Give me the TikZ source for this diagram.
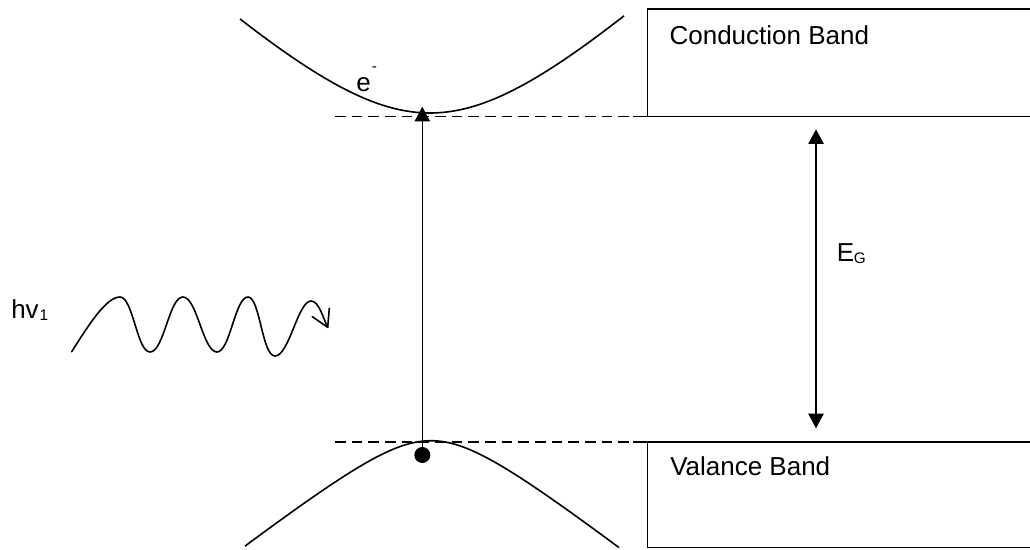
\documentclass[tikz,border=0pt]{standalone}
\usepackage{fontspec}
\setmainfont{Liberation Sans}
\usetikzlibrary{arrows.meta}
\begin{document}
\begin{tikzpicture}[x=0.75pt,y=-0.75pt,
  line/.style={line width=1.2pt},
  dashline/.style={line width=1.2pt, dash pattern=on 8pt off 4.5pt},
  lbl/.style={inner sep=0pt, anchor=base west, font=\fontsize{19.5}{23}\selectfont},
  sublbl/.style={inner sep=0pt, anchor=base west, font=\fontsize{11.5}{13}\selectfont},
  tri/.style={-{Triangle[length=11pt,width=11.5pt]}},
  dtri/.style={{Triangle[length=11pt,width=11.5pt]}-{Triangle[length=11pt,width=11.5pt]}},
]
\useasboundingbox (0,0) rectangle (1030,549);

% coordinates
\coordinate (cdl) at (335,116.7);
\coordinate (cbl) at (633,116.7);
\coordinate (cbr) at (1030,116.7);
\coordinate (cboxbl) at (647.3,116.7);
\coordinate (cboxtl) at (647.3,9.3);
\coordinate (cboxtr) at (1030,9.3);
\coordinate (vdl) at (335,441.7);
\coordinate (vbl) at (633,441.7);
\coordinate (vbr) at (1030,441.7);
\coordinate (vboxtl) at (647.3,441.7);
\coordinate (vboxbl) at (647.3,547.5);
\coordinate (vboxbr) at (1030,547.5);

% conduction band box
\draw[line] (cboxtr) -- (cboxtl) -- (cboxbl);
\draw[line] (cbl) -- (cbr);
\draw[dashline] (cdl) -- (cbl);
% valence band box
\draw[line] (vbl) -- (vbr);
\draw[line] (vboxtl) -- (vboxbl) -- (vboxbr);
\draw[dashline] (vdl) -- (vbl);

% band curves
\draw[line] plot[domain=-190:194, samples=90, smooth] ({430+\x},{113-122*(sqrt(1+(\x/130)^2)-1)});
\draw[line] plot[domain=-186:188, samples=90, smooth] ({431+\x},{440.7+46.7*(sqrt(1+(\x/60)^2)-1)});

% labels
\node[lbl] (cb) at (669.3,44.3) {Conduction Band};
\node[lbl] (vb) at (670,475) {Valance Band};
\node[lbl] (eg) at (836.7,261.7) {E};
\node[sublbl] (egs) at ([xshift=-0.8pt,yshift=-1pt]eg.base east) {G};
\node[lbl] (hv) at (11,318.3) {hv};
\node[sublbl] (hvs) at ([xshift=0.3pt,yshift=-2pt]hv.base east) {1};
\node[lbl] (el) at (356,91.7) {e};
\node[sublbl] (els) at ([xshift=0.5pt,yshift=15pt]el.base east) {-};

% excitation
\node[circle, fill=black, inner sep=0pt, minimum size=12pt] (hole) at (422.3,455) {};
\coordinate (exc) at (422.3,106.7);
\draw[line width=0.9pt, tri] (hole.center) -- (exc);

% band gap arrow
\coordinate (egtop) at (816,129.3);
\coordinate (egbot) at (816,428.3);
\draw[line, dtri] (egbot) -- (egtop);

% photon wave
\coordinate (wtip) at (327.7,327.3);
\draw[line, line join=round, line cap=round]
  (71.7,351.7) .. controls (88,326) and (106,297) .. (120,297)
  .. controls (133,297) and (137,352) .. (150,352)
  .. controls (164,352) and (169,297) .. (183,297)
  .. controls (197,297) and (203,352) .. (217,352)
  .. controls (230,352) and (235,297) .. (248,297)
  .. controls (260,297) and (262,356) .. (275,356)
  .. controls (289,356) and (298,301) .. (311,301)
  .. controls (319,301) and (323,318) .. (wtip);
\draw[line, line join=round, line cap=round] (329.3,308.3) -- (wtip) -- (312.3,316.7);
\end{tikzpicture}
\end{document}
